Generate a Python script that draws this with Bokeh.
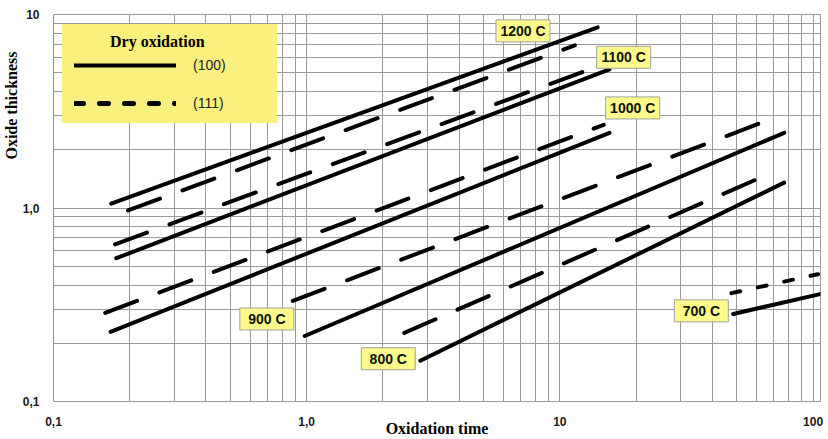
import math
from bokeh.plotting import figure
from bokeh.models import FixedTicker, Legend, LegendItem, Title
from bokeh.core.properties import value
from bokeh.embed import file_html
from bokeh.resources import INLINE

# ---- data (start / end of each straight log-log line) ----
# Oxidation time (h) and oxide thickness (um); (100) = solid, (111) = dashed
temps = ["1200 C", "1100 C", "1000 C", "900 C", "800 C", "700 C"]

time_100 = [[0.169, 14.1], [0.177, 15.7], [0.168, 15.7], [0.982, 76.9], [2.81, 76.9], [48.4, 106.6]]
thick_100 = [[1.054, 8.58], [0.550, 5.21], [0.229, 2.445], [0.218, 2.445], [0.1625, 1.352], [0.2835, 0.359]]

time_111 = [[0.197, 11.46], [0.175, 12.54], [0.160, 14.9], [0.881, 73.5], [2.43, 70.2], [47.6, 104.6]]
thick_111 = [[0.971, 6.93], [0.649, 5.09], [0.287, 2.69], [0.331, 2.99], [0.2264, 1.541], [0.363, 0.455]]

# temperature tag positions (data coordinates)
tag_x = [7.15, 17.87, 19.39, 0.696, 2.10, 36.2]
tag_y = [8.23, 6.01, 3.29, 0.267, 0.1664, 0.294]

x_major = [0.1, 1, 10, 100]
y_major = [0.1, 1, 10]
x_labels = {0.1: "0,1", 1: "1,0", 10: "10", 100: "100"}
y_labels = {0.1: "0,1", 1: "1,0", 10: "10"}

minor = [m * 10.0 ** e for e in (-1, 0, 1, 2) for m in range(2, 10)]

# styles
dash_111 = ["34 24", "34 24", "34 24", "34 24", "34 24", "9 18"]
GRID = "#9a9a9a"
YELLOW_TAG = "#fdf98a"
YELLOW_LEG = "#f9f07e"

p = figure(width=823, height=439, x_axis_type="log", y_axis_type="log",
           x_range=(0.1, 107), y_range=(0.1, 10),
           output_backend="svg", toolbar_location=None,
           min_border_left=50, min_border_right=3, min_border_top=14, min_border_bottom=36,
           background_fill_color="white", border_fill_color="white")

p.xaxis.ticker = FixedTicker(ticks=x_major, minor_ticks=minor)
p.yaxis.ticker = FixedTicker(ticks=y_major, minor_ticks=minor)
p.xaxis.major_label_overrides = x_labels
p.yaxis.major_label_overrides = y_labels

for ax in (p.xaxis, p.yaxis):
    ax.axis_line_color = None
    ax.major_tick_line_color = None
    ax.minor_tick_line_color = None
    ax.major_label_text_font = "Liberation Sans"
    ax.major_label_text_font_style = "bold"
    ax.major_label_text_font_size = "12px"
    ax.major_label_text_color = "#1a1a1a"
p.xaxis.major_label_standoff = 9
p.yaxis.major_label_standoff = 8

p.xaxis.axis_label = "Oxidation time"
p.xaxis.axis_label_text_font = "Liberation Serif"
p.xaxis.axis_label_text_font_style = "bold"
p.xaxis.axis_label_text_font_size = "16px"
p.xaxis.axis_label_text_color = "black"
p.xaxis.axis_label_standoff = -9

# y title as a side-panel title, aligned towards the top
p.add_layout(Title(text="Oxide  thickness", align="right", offset=33, standoff=0,
                   text_font="Liberation Serif", text_font_style="bold",
                   text_font_size="16px", text_color="black"), "left")

for g in (p.xgrid, p.ygrid):
    g.grid_line_color = GRID
    g.grid_line_width = 1
    g.minor_grid_line_color = GRID
    g.minor_grid_line_width = 1
p.outline_line_color = GRID

for xs, ys in zip(time_100, thick_100):
    p.line(xs, ys, line_color="black", line_width=4, line_cap="round")
for xs, ys, dash in zip(time_111, thick_111, dash_111):
    p.line(xs, ys, line_color="black", line_width=4, line_cap="round", line_dash=dash)

# temperature tags
p.rect(x=tag_x, y=tag_y, width=54, height=22, width_units="screen", height_units="screen",
       fill_color=YELLOW_TAG, line_color="#a0a0a0", line_width=1)
p.text(x=tag_x, y=tag_y, text=temps, text_align="center", text_baseline="middle",
       text_font=value("Liberation Sans"), text_font_style="bold", text_font_size="14px",
       text_color="#111111")

# legend (sample glyphs only); the border, in the fill colour, acts as padding
nan = float("nan")
leg_solid = p.line([nan], [nan], line_color="black", line_width=4, line_cap="round")
leg_dash = p.line([nan], [nan], line_color="black", line_width=5, line_cap="round",
                  line_dash="9 16")
legend = Legend(items=[LegendItem(label="(100)", renderers=[leg_solid]),
                       LegendItem(label="(111)", renderers=[leg_dash])],
                location=(9, 278), title=" ",
                title_text_font="Liberation Serif", title_text_font_style="bold",
                title_text_font_size="16px", title_standoff=3,
                label_text_font="Liberation Sans", label_text_font_size="14px",
                label_text_color="#222222",
                padding=0, spacing=22, glyph_width=102, glyph_height=16, label_height=16,
                label_standoff=17, label_width=72,
                background_fill_color=YELLOW_LEG, background_fill_alpha=1.0,
                border_line_color=YELLOW_LEG, border_line_width=12, margin=0)
p.add_layout(legend, "center")

# legend heading: a second, transparent legend drawn on top of the first one
ghost = p.line([nan], [nan], line_alpha=0)
heading = Legend(items=[LegendItem(label="Dry oxidation", renderers=[ghost])],
                 location=(56, 350),
                 label_text_font="Liberation Serif", label_text_font_style="bold",
                 label_text_font_size="16px", label_text_color="black",
                 padding=0, spacing=0, glyph_width=1, glyph_height=19, label_height=19,
                 label_standoff=0,
                 background_fill_alpha=0.0, border_line_color=None, margin=0)
p.add_layout(heading, "center")

open("out.html", "w").write(file_html(p, INLINE))
